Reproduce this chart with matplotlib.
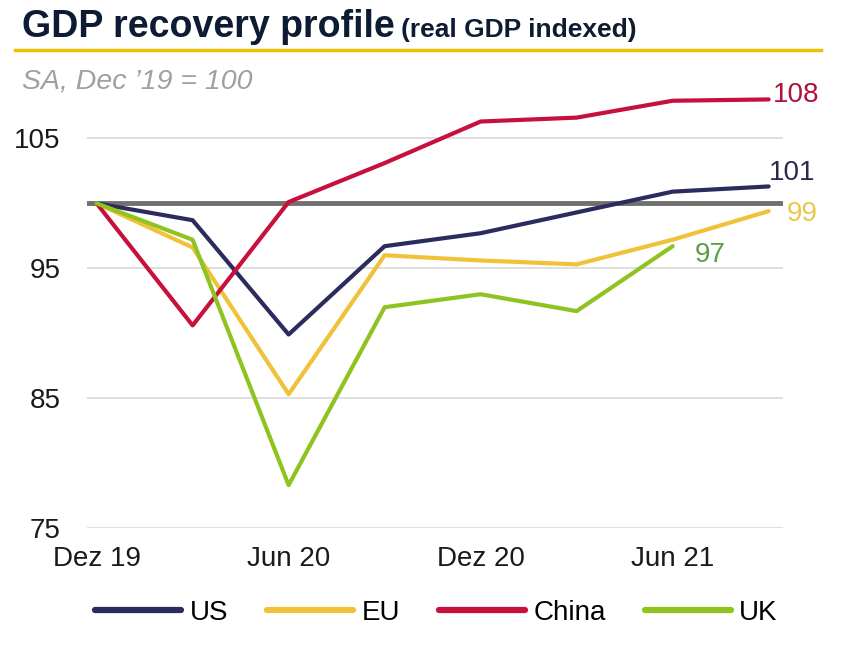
import matplotlib
matplotlib.use("Agg")
import matplotlib.pyplot as plt
from matplotlib.lines import Line2D

plt.rcParams['font.family'] = ['Liberation Sans', 'DejaVu Sans']

# quarterly real GDP index, Dec '19 = 100
quarters = ['Dez 19', 'Mar 20', 'Jun 20', 'Sep 20', 'Dez 20', 'Mar 21', 'Jun 21', 'Sep 21']
us = [100, 98.7, 89.9, 96.7, 97.7, 99.3, 100.9, 101.3]
eu = [100, 96.6, 85.3, 96.0, 95.6, 95.3, 97.2, 99.4]
china = [100, 90.6, 100.1, 103.1, 106.3, 106.6, 107.9, 108.0]
uk = [100, 97.2, 78.3, 92.0, 93.0, 91.7, 96.7]
end_labels = {'US': '101', 'EU': '99', 'China': '108', 'UK': '97'}

c_us = '#2b2b5e'
c_eu = '#f0c23a'
c_cn = '#c8103c'
c_uk = '#8fc31f'

fig = plt.figure(figsize=(8.64, 6.5), dpi=100)
ax = fig.add_axes([0.1007, 0.1877, 0.8056, 0.6793])

xs = list(range(len(quarters)))
ax.plot(xs, us, color=c_us, lw=3, solid_capstyle='round', zorder=4, label='US')
ax.plot(xs, eu, color=c_eu, lw=3, solid_capstyle='round', zorder=4, label='EU')
ax.plot(xs, china, color=c_cn, lw=3, solid_capstyle='round', zorder=4, label='China')
ax.plot(xs[:len(uk)], uk, color=c_uk, lw=3, solid_capstyle='round', zorder=4, label='UK')
ax.axhline(100, color='#707070', lw=3.5, zorder=3)

ax.set_xlim(-0.1, 7.15)
ax.set_ylim(75, 109)
ax.set_yticks([75, 85, 95, 105])
ax.set_xticks([0, 2, 4, 6])
ax.set_xticklabels([quarters[i] for i in [0, 2, 4, 6]])
ax.grid(axis='y', color='#d9d9d9', lw=1.2, zorder=0)
ax.tick_params(length=0, labelsize=20, colors='#1a1a1a')
ax.tick_params(axis='y', pad=19)
ax.tick_params(axis='x', pad=13)
for s in ax.spines.values():
    s.set_visible(False)

# end-of-line value labels
ax.annotate(end_labels['China'], (7, china[-1]), xytext=(3, 3), textcoords='offset points',
            ha='left', va='center', fontsize=20, color='#b0103a', annotation_clip=False)
ax.annotate(end_labels['US'], (7, us[-1]), xytext=(0, 10), textcoords='offset points',
            ha='left', va='center', fontsize=20, color='#2a2a50', annotation_clip=False)
ax.annotate(end_labels['EU'], (7, eu[-1]), xytext=(13, -2), textcoords='offset points',
            ha='left', va='center', fontsize=20, color='#e8c84a', annotation_clip=False)
ax.annotate(end_labels['UK'], (len(uk) - 1, uk[-1]), xytext=(16, -6), textcoords='offset points',
            ha='left', va='center', fontsize=20, color='#5aa040', annotation_clip=False)

# title block
t1 = fig.text(0.025, 0.943, 'GDP recovery profile', fontsize=27, fontweight='bold',
              color='#0d1b33', va='baseline')
fig.canvas.draw()
bb = t1.get_window_extent()
fig.text(bb.x1 / fig.bbox.width + 0.008, 0.943, '(real GDP indexed)', fontsize=19,
         fontweight='bold', color='#0d1b33', va='baseline')
fig.add_artist(Line2D([0.017, 0.95], [0.923, 0.923], color='#f0c000', lw=2.5))
fig.text(0.025, 0.8646, "SA, Dec \u201919 = 100", fontsize=20.5, style='italic',
         color='#a0a0a0', va='baseline')

handles = [Line2D([], [], color=c, lw=4.5, solid_capstyle='round') for c in (c_us, c_eu, c_cn, c_uk)]
fig.legend(handles, ['US', 'EU', 'China', 'UK'], loc='center', bbox_to_anchor=(0.505, 0.057),
           ncol=4, frameon=False, fontsize=20, handlelength=3.1, handletextpad=0.3,
           columnspacing=1.4)

fig.savefig('out.png', dpi=100)
